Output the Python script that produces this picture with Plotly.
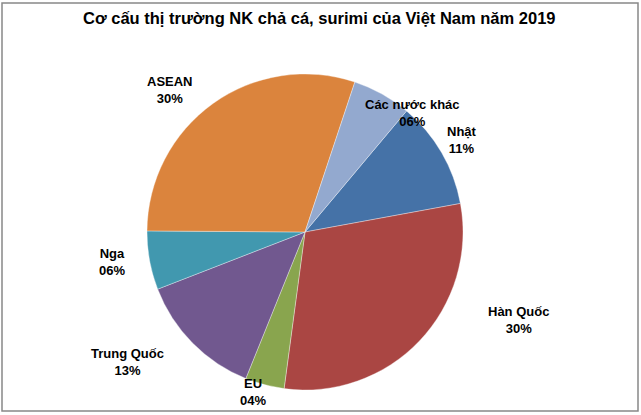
import plotly.graph_objects as go

W, H = 641, 415

markets = ["Nhật", "Hàn Quốc", "EU", "Trung Quốc", "Nga", "ASEAN", "Các nước khác"]
shares = [11, 30, 4, 13, 6, 30, 6]
colors = ["#4572A7", "#AA4643", "#89A54E", "#71588F", "#4198AF", "#DB843D", "#93A9CF"]
# label centres in pixels (x, y from top)
label_pos = [(462, 140), (518, 320), (253, 392), (127, 362), (112, 262), (170, 90), (412, 113)]

cx, cy, r = 305, 232, 158

fig = go.Figure(go.Pie(
    labels=markets,
    values=shares,
    sort=False,
    direction="clockwise",
    rotation=40,
    marker=dict(colors=colors, line=dict(color="rgba(255,255,255,0.5)", width=0.7)),
    textinfo="none",
    hoverinfo="label+percent",
    domain=dict(x=[(cx - r) / W, (cx + r) / W], y=[(H - cy - r) / H, (H - cy + r) / H]),
    showlegend=False,
))

for name, v, (px, py) in zip(markets, shares, label_pos):
    fig.add_annotation(
        x=px / W, y=1 - py / H, xref="paper", yref="paper",
        text=f"<b>{name}</b><br><b>{v:02d}%</b>", showarrow=False,
        font=dict(family="Liberation Sans, Arial", size=13, color="#000000"),
        xanchor="center", yanchor="middle", align="center",
    )

fig.add_annotation(
    x=319 / W, y=1 - 18 / H, xref="paper", yref="paper",
    text="<b>Cơ cấu thị trường NK chả cá, surimi của Việt Nam năm 2019</b>",
    showarrow=False, xanchor="center", yanchor="middle",
    font=dict(family="Liberation Sans, Arial", size=16.5, color="#000000"),
)

fig.add_shape(type="rect", xref="paper", yref="paper",
              x0=2 / W, x1=638 / W, y0=1 - 411 / H, y1=1 - 3 / H,
              line=dict(color="#888888", width=1.5))

fig.update_layout(
    width=W, height=H,
    margin=dict(l=0, r=0, t=0, b=0),
    paper_bgcolor="white", plot_bgcolor="white",
    font=dict(family="Liberation Sans, Arial", size=12, color="#000000"),
)

fig.write_html("out.html", config={"displayModeBar": False},
               post_script="document.body.style.margin='0';document.body.style.padding='0';")
